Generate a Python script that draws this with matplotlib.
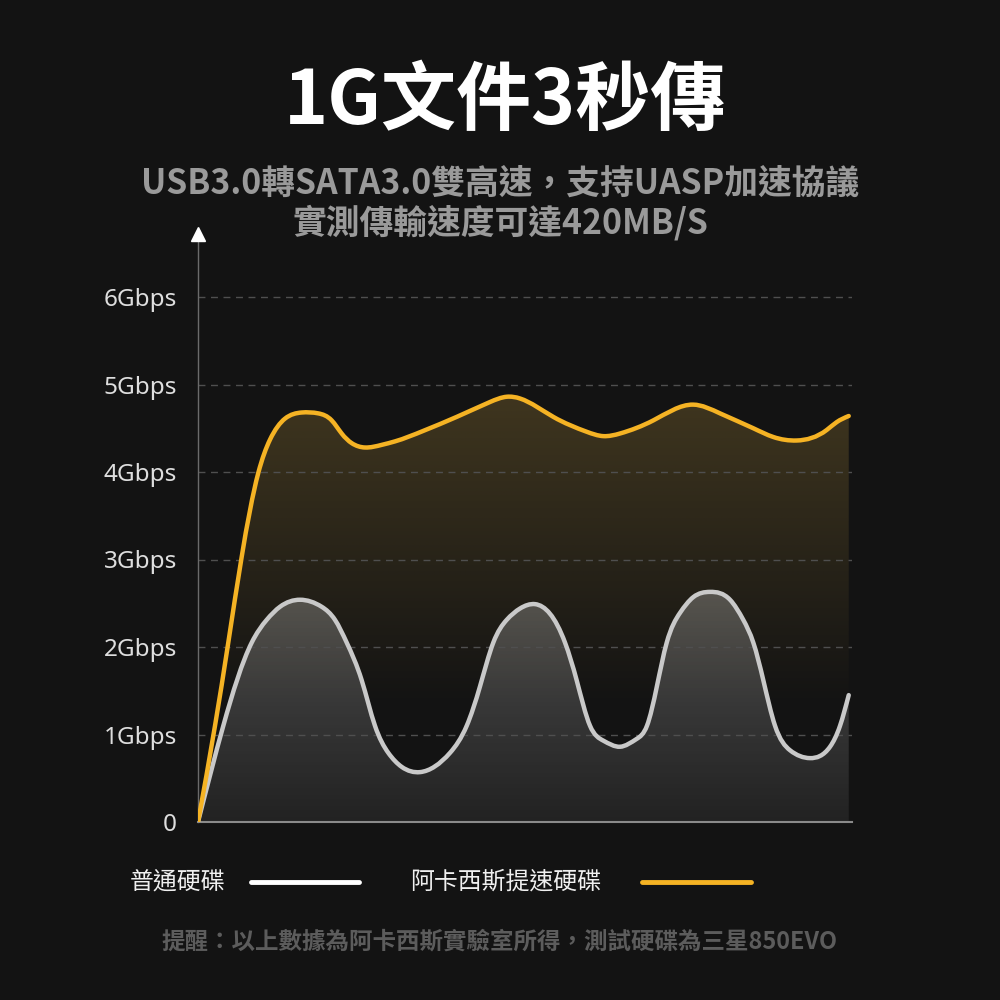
import matplotlib
matplotlib.use("Agg")
import matplotlib.pyplot as plt
import numpy as np
from matplotlib.path import Path
from matplotlib.patches import PathPatch
from matplotlib.lines import Line2D

plt.rcParams['font.family'] = ['Noto Sans CJK TC', 'DejaVu Sans']

# ---------------- data ----------------
title = "1G文件3秒傳"
subtitle_1 = "USB3.0轉SATA3.0雙高速，支持UASP加速協議"
subtitle_2 = "實測傳輸速度可達420MB/S"
y_ticks = [0, 1, 2, 3, 4, 5, 6]
y_tick_labels = ["0", "1Gbps", "2Gbps", "3Gbps", "4Gbps", "5Gbps", "6Gbps"]
legend_labels = ["普通硬碟", "阿卡西斯提速硬碟"]
footnote = "提醒：以上數據為阿卡西斯實驗室所得，測試硬碟為三星850EVO"

# 普通硬碟 (normal drive), Gbps over a 0-100 time scale
normal_x = [0, 3.87, 8.21, 10.50, 12.54, 15.60, 18.91, 20.95, 22.74, 25.03, 27.06,
            29.10, 31.15, 33.94, 38.53, 41.09, 43.12, 45.15, 47.20, 49.24, 51.53,
            56.12, 57.90, 59.94, 61.97, 64.53, 67.08, 68.65, 71.67, 73.70, 75.73,
            78.29, 81.35, 83.38, 84.91, 86.44, 88.23, 90.52, 93.58, 96.64, 98.17, 99.5]
normal_y = [0, 1.10, 2.05, 2.31, 2.46, 2.54, 2.46, 2.31, 2.05, 1.62, 1.10,
            0.79, 0.63, 0.57, 0.79, 1.10, 1.55, 2.05, 2.31, 2.44, 2.49,
            2.05, 1.62, 1.10, 0.93, 0.86, 0.95, 1.10, 2.05, 2.39, 2.57,
            2.63, 2.54, 2.31, 2.05, 1.62, 1.10, 0.82, 0.73, 0.86, 1.10, 1.45]

# 阿卡西斯提速硬碟 (accelerated drive)
fast_x = [0, 2.60, 4.63, 6.68, 9.22, 11.01, 13.30, 15.86, 18.39, 20.44, 21.97, 23.50,
          25.53, 28.09, 30.12, 34.45, 39.56, 44.65, 47.20, 49.24, 54.33, 59.43, 61.97,
          64.53, 69.62, 75.73, 79.82, 84.91, 87.97, 91.54, 96.13, 97.66, 99.5]
fast_y = [0, 1.10, 2.05, 3.03, 3.99, 4.37, 4.61, 4.68, 4.67, 4.59, 4.44, 4.33,
          4.28, 4.31, 4.35, 4.47, 4.63, 4.80, 4.86, 4.84, 4.63, 4.46, 4.41,
          4.44, 4.59, 4.77, 4.67, 4.50, 4.40, 4.36, 4.48, 4.57, 4.64]

# ---------------- style ----------------
BG = "#131313"
YELLOW = "#F5B324"
GRAY_LINE = "#c9c9c9"

fig = plt.figure(figsize=(10, 10), dpi=100, facecolor=BG)
ax = fig.add_axes([0.198, 0.178, 0.654, 0.588])
ax.set_facecolor("none")
YMAX = 6.72
ax.set_xlim(0, 100)
ax.set_ylim(0, YMAX)


def spline_slopes(x, y):
    """Slopes of the natural cubic spline through the points."""
    n = len(x)
    h = np.diff(x)
    d = np.diff(y) / h
    A = np.zeros((n, n))
    b = np.zeros(n)
    A[0, 0], A[0, 1], b[0] = 2, 1, 3 * d[0]
    A[-1, -2], A[-1, -1], b[-1] = 1, 2, 3 * d[-1]
    for i in range(1, n - 1):
        A[i, i - 1] = h[i]
        A[i, i] = 2 * (h[i - 1] + h[i])
        A[i, i + 1] = h[i - 1]
        b[i] = 3 * (h[i] * d[i - 1] + h[i - 1] * d[i])
    return np.linalg.solve(A, b)


def smooth_path(x, y, close_to_base=False):
    """Path through the data points drawn as cubic Bezier segments."""
    x = np.asarray(x, float)
    y = np.asarray(y, float)
    m = spline_slopes(x, y)
    verts = [(x[0], y[0])]
    codes = [Path.MOVETO]
    for i in range(len(x) - 1):
        h = x[i + 1] - x[i]
        verts += [(x[i] + h / 3, y[i] + m[i] * h / 3),
                  (x[i + 1] - h / 3, y[i + 1] - m[i + 1] * h / 3),
                  (x[i + 1], y[i + 1])]
        codes += [Path.CURVE4] * 3
    if close_to_base:
        verts += [(x[-1], 0), (x[0], 0), (x[0], 0)]
        codes += [Path.LINETO, Path.LINETO, Path.CLOSEPOLY]
    return Path(verts, codes)


def gradient_fill(x, y, rgb, v_top, v_bot, a_top, a_bot, z):
    n = 400
    vals = np.linspace(YMAX, 0, n)
    t = np.clip((vals - v_bot) / (v_top - v_bot), 0, 1)
    alpha = a_bot + (a_top - a_bot) * t
    img = np.zeros((n, 2, 4))
    img[:, :, 0] = rgb[0]
    img[:, :, 1] = rgb[1]
    img[:, :, 2] = rgb[2]
    img[:, :, 3] = alpha[:, None]
    im = ax.imshow(img, extent=[0, 100, 0, YMAX], origin="upper",
                   aspect="auto", interpolation="bilinear", zorder=z)
    patch = PathPatch(smooth_path(x, y, close_to_base=True), facecolor="none",
                      edgecolor="none", transform=ax.transData)
    ax.add_patch(patch)
    im.set_clip_path(patch)


gradient_fill(fast_x, fast_y, (0.55, 0.45, 0.20), 4.9, 1.3, 0.37, 0.0, 1)
gradient_fill(normal_x, normal_y, (0.75, 0.75, 0.75), 2.6, 0.0, 0.33, 0.09, 1.5)

# grid
ax.hlines(y_ticks[1:], 0, 100, colors="#4f4f4f", linestyles=(0, (5, 4)),
          linewidth=1.0, zorder=2)

# curves
ax.add_patch(PathPatch(smooth_path(normal_x, normal_y), facecolor="none",
                       edgecolor=GRAY_LINE, lw=3.2, capstyle="round",
                       joinstyle="round", zorder=3))
ax.add_patch(PathPatch(smooth_path(fast_x, fast_y), facecolor="none",
                       edgecolor=YELLOW, lw=3.2, capstyle="round",
                       joinstyle="round", zorder=4))

# axes
for s in ["top", "right"]:
    ax.spines[s].set_visible(False)
ax.spines["left"].set_color("#6a6a6a")
ax.spines["left"].set_linewidth(1.0)
ax.spines["bottom"].set_color("#8a8a8a")
ax.spines["bottom"].set_linewidth(1.5)
ax.set_xticks([])
ax.set_yticks(y_ticks)
ax.set_yticklabels(y_tick_labels, fontsize=17.5, color="#dedede",
                   family=["Noto Sans", "DejaVu Sans"])
ax.tick_params(axis="y", length=0, pad=15)
ax.plot([0], [YMAX], marker="^", color="white", markersize=10, clip_on=False, zorder=5)

# texts
fig.text(0.505, 0.898, title, ha="center", va="center", fontsize=54,
         fontweight="bold", color="white")
fig.text(0.500, 0.817, subtitle_1, ha="center", va="center", fontsize=24.3,
         fontweight="bold", color="#9a9a9a")
fig.text(0.500, 0.777, subtitle_2, ha="center", va="center", fontsize=24.3,
         fontweight="bold", color="#9a9a9a")

# legend
fig.text(0.130, 0.118, legend_labels[0], ha="left", va="center", fontsize=17.2,
         fontweight="light", color="#f0f0f0")
fig.add_artist(Line2D([0.251, 0.359], [0.118, 0.118], transform=fig.transFigure,
                      color="white", lw=3.5, solid_capstyle="round"))
fig.text(0.410, 0.118, legend_labels[1], ha="left", va="center", fontsize=17.2,
         fontweight="light", color="#f0f0f0")
fig.add_artist(Line2D([0.642, 0.751], [0.118, 0.118], transform=fig.transFigure,
                      color=YELLOW, lw=3.5, solid_capstyle="round"))

fig.text(0.4995, 0.059, footnote, ha="center", va="center", fontsize=16.9,
         fontweight="bold", color="#5c5c5c")

fig.savefig("out.png", dpi=100, facecolor=BG)
